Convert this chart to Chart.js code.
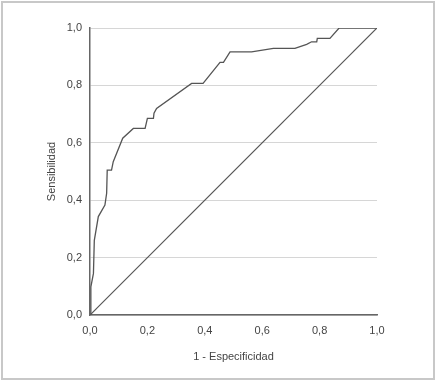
<!DOCTYPE html>
<html lang="es">
<head>
    <meta charset="UTF-8">
    <title>Curva ROC</title>
    <script src="https://cdn.jsdelivr.net/npm/chart.js"></script>
    <style>
        * { margin: 0; padding: 0; box-sizing: border-box; }
        body { background: #fff; width: 438px; height: 381px; position: relative; overflow: hidden; }
        #marco {
            position: absolute; left: 1px; top: 1px; width: 434px; height: 379px;
            border: 2px solid #c8c8c8; pointer-events: none;
        }
        canvas { position: absolute; left: 0; top: 0; }
    </style>
</head>
<body>
    <canvas id="roc" width="438" height="381"></canvas>
    <div id="marco"></div>

    <script>
        // 1 - especificidad / sensibilidad
        const rocX = [0, 0.003, 0.012, 0.015, 0.029, 0.052, 0.058, 0.06, 0.075, 0.081, 0.114, 0.151, 0.192, 0.2, 0.221, 0.223, 0.232,
                      0.354, 0.394, 0.453, 0.465, 0.488, 0.563, 0.639, 0.714, 0.755, 0.772, 0.79, 0.792, 0.836, 0.868, 1];
        const rocY = [0, 0.098, 0.145, 0.26, 0.343, 0.383, 0.424, 0.505, 0.505, 0.534, 0.616, 0.65, 0.65, 0.685, 0.685, 0.703, 0.72,
                      0.807, 0.807, 0.88, 0.88, 0.917, 0.917, 0.929, 0.929, 0.943, 0.952, 0.952, 0.964, 0.964, 1, 1];
        const diagX = [0, 1];
        const diagY = [0, 1];
        const tickVals = [0, 0.2, 0.4, 0.6, 0.8, 1];

        const toPts = (xs, ys) => xs.map((x, i) => ({ x: x, y: ys[i] }));
        const fmt = v => v.toFixed(1).replace(".", ",");
        const font = { family: "'Liberation Sans', Arial, sans-serif", size: 11 };

        new Chart(document.getElementById("roc"), {
            type: "scatter",
            data: {
                datasets: [
                    { data: toPts(rocX, rocY), showLine: true, borderColor: "#555", borderWidth: 1.3, pointRadius: 0, tension: 0 },
                    { data: toPts(diagX, diagY), showLine: true, borderColor: "#555", borderWidth: 1.2, pointRadius: 0, tension: 0 }
                ]
            },
            options: {
                responsive: false,
                animation: false,
                layout: { padding: { left: 0, top: 28, right: 61, bottom: 0 } },
                plugins: { legend: { display: false }, tooltip: { enabled: false } },
                scales: {
                    x: {
                        type: "linear", min: 0, max: 1,
                        afterFit: s => { s.height = 66; },
                        afterBuildTicks: s => { s.ticks = tickVals.map(v => ({ value: v })); },
                        grid: { display: false, drawTicks: false },
                        border: { display: true, color: "#666", width: 1.5 },
                        ticks: { color: "#444", font: font, padding: 9, maxRotation: 0, callback: v => fmt(v) },
                        title: { display: true, text: "1 - Especificidad", color: "#444", font: font, padding: { top: 0, bottom: 17 } }
                    },
                    y: {
                        type: "linear", min: 0, max: 1,
                        afterFit: s => { s.width = 90; },
                        afterBuildTicks: s => { s.ticks = tickVals.map(v => ({ value: v })); },
                        grid: { color: "#d6d6d6", lineWidth: 1, drawTicks: false },
                        border: { display: true, color: "#666", width: 1.5 },
                        ticks: { color: "#444", font: font, padding: 8, callback: v => fmt(v) },
                        title: { display: true, text: "Sensibilidad", color: "#444", font: font, padding: { top: 45, bottom: 0 } }
                    }
                }
            }
        });
    </script>
</body>
</html>
